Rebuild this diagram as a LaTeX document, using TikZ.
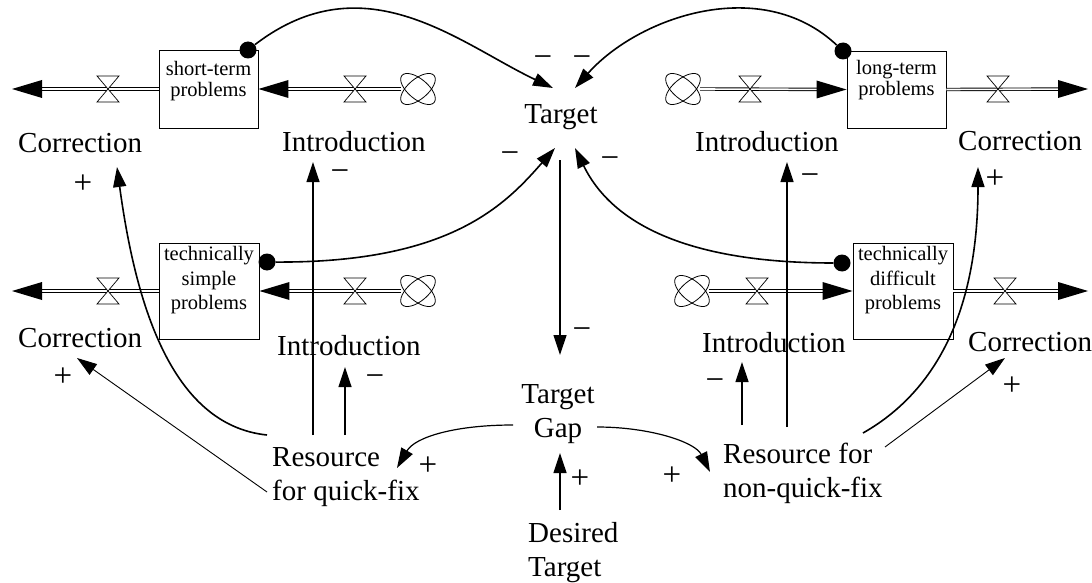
\documentclass[tikz,border=0pt]{standalone}
\usepackage{fontspec}
\setmainfont{Liberation Serif}
\usetikzlibrary{arrows.meta,calc}

\tikzset{
  lbl/.style={font=\fontsize{29}{34}\selectfont, inner sep=0pt},
  polarity/.style={font=\fontsize{33}{34}\selectfont, inner sep=0pt, anchor=base},
  stock/.style={draw, line width=0.9pt, inner sep=0pt},
  stocktxt/.style={font=\fontsize{20.5}{24.5}\selectfont, inner sep=0pt, align=center, anchor=north},
  shortstocktxt/.style={stocktxt, font=\fontsize{20.5}{20.5}\selectfont},
  linkdot/.style={circle, fill, inner sep=0pt, minimum size=17pt},
  cloudspot/.style={circle, inner sep=0pt, minimum size=34pt},
  pipe/.style={line width=0.9pt, double=white, double distance=1.6pt, shorten >=28pt},
  arrowed/.style={-{Triangle[length=20pt,width=13pt]}},
  link/.style={arrowed, line width=1.2pt},
  thick link/.style={arrowed, line width=1.6pt},
  thin link/.style={arrowed, line width=0.9pt},
  valve/.pic={\filldraw[fill=white, line width=0.7pt] (-11,-13) -- (11,-13) -- (-11,13) -- (11,13) -- cycle;},
  sourcecloud/.pic={
    \fill[white] (0,0) ellipse [x radius=21, y radius=10, rotate=40];
    \fill[white] (0,0) ellipse [x radius=21, y radius=10, rotate=-40];
    \draw[line width=0.8pt] (0,0) ellipse [x radius=21, y radius=10, rotate=40];
    \draw[line width=0.8pt] (0,0) ellipse [x radius=21, y radius=10, rotate=-40];
  },
  flowtip/.pic={\fill (0,0) -- (-30,-9) -- (-30,9) -- cycle;},
}

\begin{document}
\begin{tikzpicture}[x=1pt,y=-1pt]
\fill[white] (0,0) rectangle (1092,583);
\useasboundingbox (0,0) rectangle (1092,583);

% stocks
\node[stock, minimum width=99pt, minimum height=78pt] (st) at (208.5,89) {};
\node[shortstocktxt] (stt) at ($(st.north)+(0,12)$) {short-term\\problems};
\node[stock, minimum width=99pt, minimum height=77pt] (lt) at (896.5,89.5) {};
\node[shortstocktxt] (ltt) at ($(lt.north)+(0,10)$) {long-term\\problems};
\node[stock, minimum width=100pt, minimum height=96pt] (ts) at (209,291) {};
\node[stocktxt] (tst) at ($(ts.north)+(0,4)$) {technically\\simple\\problems};
\node[stock, minimum width=100pt, minimum height=96pt] (td) at (903,291) {};
\node[stocktxt] (tdt) at ($(td.north)+(0,4)$) {technically\\difficult\\problems};

% sources and sinks
\node[cloudspot] (c1) at (418,89) {};
\node[cloudspot] (c2) at (683,89) {};
\node[cloudspot] (c3) at (418,291) {};
\node[cloudspot] (c4) at (692,291) {};
\pic at (c1) {sourcecloud};
\pic at (c2) {sourcecloud};
\pic at (c3) {sourcecloud};
\pic at (c4) {sourcecloud};
\coordinate (k1) at (12,89);
\coordinate (k2) at (1088,89);
\coordinate (k3) at (12,291);
\coordinate (k4) at (1088,291);

% flows
\draw[pipe] (st.west) -- (k1);   \pic[rotate=180] at (k1) {flowtip};
\draw[pipe] (c1.west) -- (st.east); \pic[rotate=180] at (st.east) {flowtip};
\draw[pipe] (c2.east) -- (lt.west); \pic at (lt.west) {flowtip};
\draw[pipe] (lt.east) -- (k2);   \pic at (k2) {flowtip};
\draw[pipe] (ts.west) -- (k3);   \pic[rotate=180] at (k3) {flowtip};
\draw[pipe] (c3.west) -- (ts.east); \pic[rotate=180] at (ts.east) {flowtip};
\draw[pipe] (c4.east) -- (td.west); \pic at (td.west) {flowtip};
\draw[pipe] (td.east) -- (k4);   \pic at (k4) {flowtip};

% valves
\pic at (108,89) {valve};
\pic at (355,89) {valve};
\pic at (750,89) {valve};
\pic at (998,89) {valve};
\pic at (108,291) {valve};
\pic at (355,291) {valve};
\pic at (757,291) {valve};
\pic at (1005,291) {valve};

% information taps on the stocks
\node[linkdot] (std) at (248,50) {};
\node[linkdot] (ltd) at (843,51) {};
\node[linkdot] (tsd) at (267,262) {};
\node[linkdot] (tdd) at (842,263) {};

% variables
\node[lbl, anchor=base] (target) at (561,124) {Target};
\node[lbl, align=center, anchor=north] (gap) at (558,384) {Target\\Gap};
\node[lbl, align=left, anchor=north west] (dt) at (528,522) {Desired\\Target};
\node[lbl, align=left, anchor=north west] (rq) at (272,447) {Resource\\for quick-fix};
\node[lbl, align=left, anchor=north west] (rn) at (723,443) {Resource for\\non-quick-fix};
\node[lbl, anchor=base west] (iTL) at (282,152) {Introduction};
\node[lbl, anchor=base west] (cTL) at (18,153) {Correction};
\node[lbl, anchor=base west] (iML) at (277,355) {Introduction};
\node[lbl, anchor=base west] (cML) at (18,347) {Correction};
\node[lbl, anchor=base west] (iTR) at (695,152) {Introduction};
\node[lbl, anchor=base west] (cTR) at (958,150) {Correction};
\node[lbl, anchor=base west] (iMR) at (702,352) {Introduction};
\node[lbl, anchor=base west] (cMR) at (968,351) {Correction};

% stocks feeding the target
\draw[thick link] (std) .. controls (365,-40) and (460,44) .. ($(target.base)+(-8,-36)$);
\draw[thick link] (ltd) .. controls (761,-26) and (638,17) .. ($(target.base)+(14,-36)$);
\draw[thick link] (tsd) .. controls (450,263) and (505,205) .. ($(target.base)+(-6,24)$);
\draw[thick link] (tdd) .. controls (700,263) and (615,230) .. ($(target.base)+(14,24)$);

% target gap
\draw[link] ($(target.base)+(-1,36)$) -- ($(gap.north)+(2,-29)$);
\draw[link] ($(dt.north west)+(32,-12)$) -- ($(gap.north)+(2,69)$);
\draw[link] ($(gap.north)+(-45,41)$) .. controls (455,425) and (415,437) .. ($(rq.north west)+(125,21)$);
\draw[link] ($(gap.north)+(39,43)$) .. controls (650,427) and (695,442) .. ($(rn.north west)+(-13,29)$);

% quick-fix resource
\draw[link] ($(rq.north west)+(41,-12)$) -- ($(iTL.base west)+(31,10)$);
\draw[link] ($(rq.north west)+(73,-12)$) -- ($(iML.base west)+(68,12)$);
\draw[thick link] ($(rq.north west)+(-5,-12)$) .. controls (170,425) and (135,300) .. ($(cTL.base west)+(99,14)$);
\draw[thin link] ($(rq.north west)+(-5,45)$) -- ($(cML.base west)+(59,11)$);

% non-quick-fix resource
\draw[link] ($(rn.north west)+(64,-16)$) -- ($(iTR.base west)+(92,10)$);
\draw[link] ($(rn.north west)+(19,-18)$) -- ($(iMR.base west)+(40,10)$);
\draw[thick link] ($(rn.north west)+(140,-10)$) .. controls (930,395) and (978,320) .. ($(cTR.base west)+(20,17)$);
\draw[thin link] ($(rn.north west)+(162,4)$) -- ($(cMR.base west)+(37,7)$);

% link polarities
\node[polarity] (m1) at (543,68) {−};
\node[polarity] (m2) at (582,68) {−};
\node[polarity] (m3) at (510,164) {−};
\node[polarity] (m4) at (610,168) {−};
\node[polarity] (m5) at (582,339) {−};
\node[polarity] (m6) at (340,181) {−};
\node[polarity] (m7) at (375,386) {−};
\node[polarity] (m8) at (810,185) {−};
\node[polarity] (m9) at (715,390) {−};
\node[polarity] (p1) at (83,193) {+};
\node[polarity] (p2) at (63,386) {+};
\node[polarity] (p3) at (428,475) {+};
\node[polarity] (p4) at (672,485) {+};
\node[polarity] (p5) at (580,488) {+};
\node[polarity] (p6) at (995,188) {+};
\node[polarity] (p7) at (1012,395) {+};
\end{tikzpicture}
\end{document}
